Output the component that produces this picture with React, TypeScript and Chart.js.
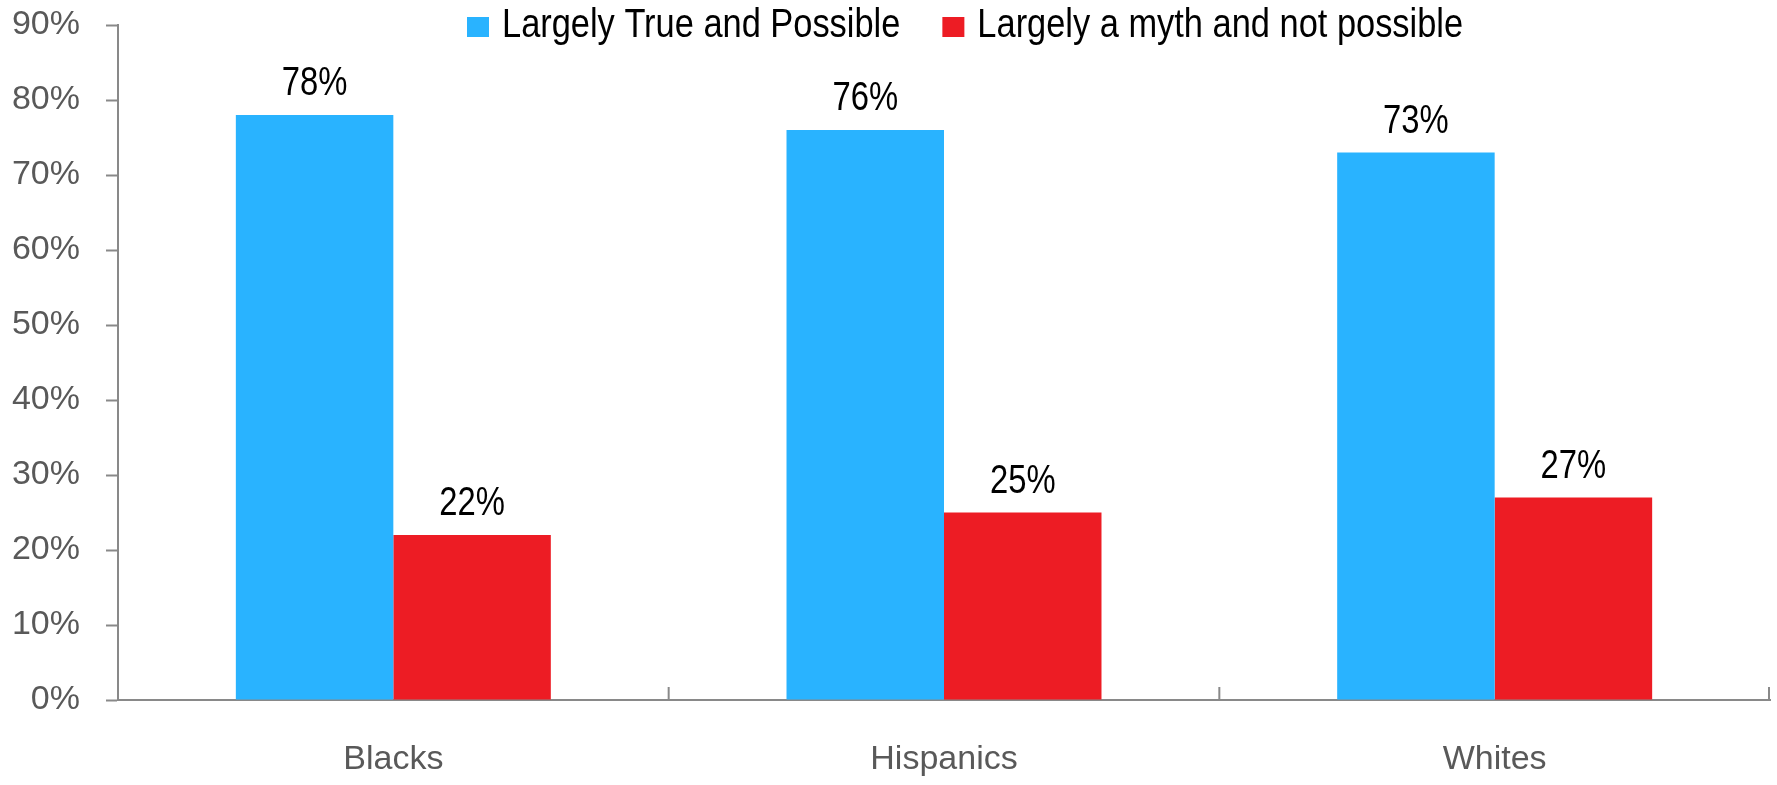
import React, { useEffect, useRef } from "react";
import { Chart, registerables } from "chart.js";

Chart.register(...registerables);

const categories = ["Blacks", "Hispanics", "Whites"];
const seriesNames = ["Largely True and Possible", "Largely a myth and not possible"];
const trueValues = [78, 76, 73];
const mythValues = [22, 25, 27];
const yTicks = [0, 10, 20, 30, 40, 50, 60, 70, 80, 90];

const FONT = "'Liberation Sans', Arial, sans-serif";
const BLUE = "#29B3FF";
const RED = "#ED1C24";
const AXIS = "#898989";
const TICKTXT = "#595959";

// draw horizontally condensed text (narrow face look)
function narrowText(ctx: any, text: string, x: number, y: number, sx: number, align: string) {
  ctx.save();
  ctx.translate(x, y);
  ctx.scale(sx, 1);
  ctx.textAlign = align;
  ctx.fillText(text, 0, 0);
  ctx.restore();
}

const dataLabelPlugin = {
  id: "dataLabels",
  afterDatasetsDraw(chart: any) {
    const ctx = chart.ctx;
    ctx.save();
    ctx.font = `41px ${FONT}`;
    ctx.fillStyle = "#000";
    ctx.textBaseline = "alphabetic";
    chart.data.datasets.forEach((ds: any, di: number) => {
      const meta = chart.getDatasetMeta(di);
      meta.data.forEach((el: any, i: number) => {
        narrowText(ctx, `${ds.data[i]}%`, el.x, el.y - 20, 0.8, "center");
      });
    });
    ctx.restore();
  },
};

const innerTicksPlugin = {
  id: "innerTicks",
  afterDraw(chart: any) {
    const ctx = chart.ctx;
    const n = chart.data.labels.length;
    const { left, right, bottom } = chart.chartArea;
    const w = (right - left) / n;
    ctx.save();
    ctx.strokeStyle = AXIS;
    ctx.lineWidth = 2;
    for (let i = 1; i <= n; i++) {
      const x = Math.min(left + i * w, right - 1);
      ctx.beginPath();
      ctx.moveTo(x, bottom - 13);
      ctx.lineTo(x, bottom);
      ctx.stroke();
    }
    ctx.restore();
  },
};

const legendPlugin = {
  id: "customLegend",
  afterDraw(chart: any) {
    const ctx = chart.ctx;
    const sx = 0.86;
    ctx.save();
    ctx.font = `40px ${FONT}`;
    ctx.textBaseline = "alphabetic";
    let x = 467;
    const baseY = 37;
    chart.data.datasets.forEach((ds: any) => {
      ctx.fillStyle = ds.backgroundColor;
      ctx.fillRect(x, 17, 22, 20);
      x += 22 + 13;
      ctx.fillStyle = "#000";
      narrowText(ctx, ds.label, x, baseY, sx, "left");
      x += ctx.measureText(ds.label).width * sx + 42;
    });
    ctx.restore();
  },
};

export default function App() {
  const ref = useRef<HTMLCanvasElement | null>(null);
  useEffect(() => {
    document.body.style.margin = "0";
    const canvas = ref.current!;
    const chart = new Chart(canvas, {
      type: "bar",
      data: {
        labels: categories,
        datasets: [
          { label: seriesNames[0], data: trueValues, backgroundColor: BLUE, categoryPercentage: 0.572, barPercentage: 1.0 },
          { label: seriesNames[1], data: mythValues, backgroundColor: RED, categoryPercentage: 0.572, barPercentage: 1.0 },
        ],
      },
      options: {
        responsive: false,
        animation: false,
        devicePixelRatio: 1,
        layout: { padding: { top: 25, right: 7, left: 0, bottom: 0 } },
        plugins: { legend: { display: false }, tooltip: { enabled: false } },
        scales: {
          x: {
            afterFit: (s: any) => { s.height = 85; s.paddingLeft = 0; s.paddingRight = 0; },
            grid: { display: true, drawOnChartArea: false, drawTicks: false },
            border: { display: true, color: AXIS, width: 2 },
            ticks: { font: { family: FONT, size: 34 }, color: TICKTXT, padding: 39 },
          },
          y: {
            min: 0,
            max: 90,
            afterFit: (s: any) => { s.width = 118; s.paddingTop = 0; s.paddingBottom = 0; },
            afterBuildTicks: (s: any) => { s.ticks = yTicks.map((v) => ({ value: v })); },
            grid: { drawOnChartArea: false, drawTicks: true, tickLength: 12, tickColor: AXIS, tickWidth: 2 },
            border: { display: true, color: AXIS, width: 2 },
            ticks: { font: { family: FONT, size: 34 }, color: TICKTXT, padding: 26, callback: (v: any) => `${v}%` },
          },
        },
      },
      plugins: [dataLabelPlugin, innerTicksPlugin, legendPlugin],
    });
    return () => chart.destroy();
  }, []);
  return (
    <div style={{ width: 1777, height: 785, background: "#fff" }}>
      <canvas ref={ref} width={1777} height={785} style={{ display: "block" }} />
    </div>
  );
}
